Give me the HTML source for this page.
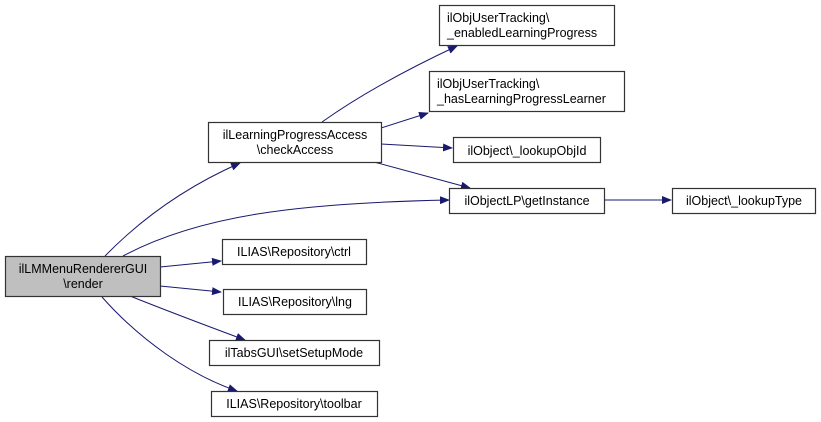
<!DOCTYPE html>
<html><head><style>body{margin:0;background:#fff}svg{display:block}text{font-family:"Liberation Sans",Arial,sans-serif;font-size:12.5px;fill:#000}</style></head>
<body>
<svg width="821" height="422" viewBox="0 0 821 422" xmlns="http://www.w3.org/2000/svg">
<defs><marker id="a" markerWidth="10" markerHeight="8" refX="9" refY="4" orient="auto" markerUnits="userSpaceOnUse"><path d="M0,0 L10,4 L0,8 z" fill="#191970"/></marker></defs>
<g fill="none" stroke="#191970" stroke-width="1" marker-end="url(#a)">
<path d="M105,256 C145,215 190,185 240,163"/>
<path d="M123,256 C200,215 300,203 449,200"/>
<path d="M160,267 L221,261"/>
<path d="M160,286 L221,292"/>
<path d="M130,296 C170,312 210,327 245,340"/>
<path d="M102,297 C140,340 190,375 237,391"/>
<path d="M322,122 C360,95 410,68 457,46"/>
<path d="M381,128 L428,113"/>
<path d="M381,144 L452,148"/>
<path d="M374,162 L470,188"/>
<path d="M604,200 L671,200"/>
</g>
<g stroke="#333" stroke-width="1.2">
<rect x="5.5" y="256.5" width="155" height="40" fill="#bfbfbf"/>
<rect x="208.5" y="122.5" width="173" height="40" fill="#fff"/>
<rect x="439.5" y="5.5" width="175" height="40" fill="#fff"/>
<rect x="429.5" y="71.5" width="195" height="40" fill="#fff"/>
<rect x="453.5" y="137.5" width="147" height="25" fill="#fff"/>
<rect x="449.5" y="188.5" width="155" height="25" fill="#fff"/>
<rect x="672.5" y="188.5" width="143" height="25" fill="#fff"/>
<rect x="222.5" y="239.5" width="144" height="25" fill="#fff"/>
<rect x="223.5" y="289.5" width="143" height="25" fill="#fff"/>
<rect x="209.5" y="340.5" width="170" height="25" fill="#fff"/>
<rect x="211.5" y="391.5" width="166" height="25" fill="#fff"/>
</g>
<g text-anchor="middle">
<text x="83" y="273">ilLMMenuRendererGUI</text><text x="83" y="288">\render</text>
<text x="295" y="139">ilLearningProgressAccess</text><text x="295" y="154">\checkAccess</text>
<text x="294" y="256">ILIAS\Repository\ctrl</text>
<text x="295" y="306">ILIAS\Repository\lng</text>
<text x="294" y="357">ilTabsGUI\setSetupMode</text>
<text x="294" y="408">ILIAS\Repository\toolbar</text>
<text x="527" y="155">ilObject\_lookupObjId</text>
<text x="527" y="205">ilObjectLP\getInstance</text>
<text x="744" y="205">ilObject\_lookupType</text>
</g>
<text x="447" y="22">ilObjUserTracking\</text><text x="447" y="37">_enabledLearningProgress</text>
<text x="437" y="88">ilObjUserTracking\</text><text x="437" y="103">_hasLearningProgressLearner</text>
</svg>
</body></html>
